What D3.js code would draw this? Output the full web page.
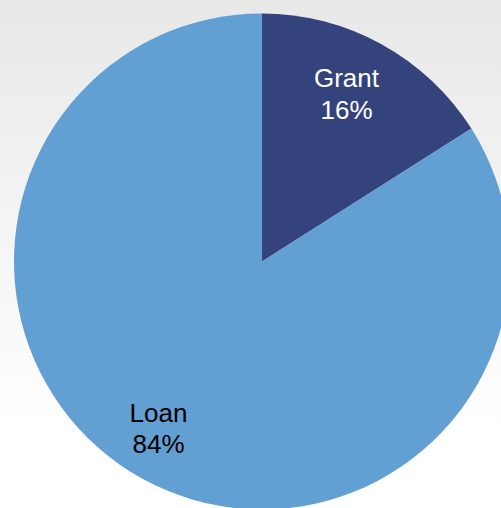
<!DOCTYPE html>
<html>
<head>
<meta charset="utf-8">
<script src="https://cdn.jsdelivr.net/npm/d3@7"></script>
<style>
  html, body { margin: 0; padding: 0; background: #fff; }
  svg { display: block; }
</style>
</head>
<body>
<svg id="chart" width="501" height="508"></svg>
<script>
// Funding split
const categories = ["Grant", "Loan"];
const shares = [16, 84];
const sliceColors = ["#35437d", "#629fd3"];
const labelColors = ["#ffffff", "#000000"];

const width = 501, height = 508;
const cx = 262, cy = 261.5, radius = 248;

const svg = d3.select("#chart");

// soft grey-to-white backdrop
const defs = svg.append("defs");
const grad = defs.append("linearGradient")
  .attr("id", "bg").attr("x1", 0).attr("y1", 0).attr("x2", 0).attr("y2", 1);
grad.append("stop").attr("offset", "0%").attr("stop-color", "#e8e8e8");
grad.append("stop").attr("offset", "85%").attr("stop-color", "#ffffff");
svg.append("rect").attr("width", width).attr("height", height).attr("fill", "url(#bg)");

const data = categories.map((c, i) => ({ name: c, value: shares[i], color: sliceColors[i], text: labelColors[i] }));

const pie = d3.pie().sort(null).value(d => d.value);
const arc = d3.arc().innerRadius(0).outerRadius(radius);
const labelArc = d3.arc().innerRadius(192).outerRadius(192);

const g = svg.append("g").attr("transform", `translate(${cx},${cy})`);
const arcs = pie(data);

g.selectAll("path.slice")
  .data(arcs)
  .join("path")
  .attr("class", "slice")
  .attr("d", arc)
  .attr("fill", d => d.data.color);

// small nudges so labels sit where the layout puts them
const nudge = [[-8, 0], [-11, -2]];

const labels = g.selectAll("text.lbl")
  .data(arcs)
  .join("text")
  .attr("class", "lbl")
  .attr("transform", (d, i) => {
    const [x, y] = labelArc.centroid(d);
    return `translate(${x + nudge[i][0]},${y + nudge[i][1]})`;
  })
  .attr("text-anchor", "middle")
  .attr("font-family", "Liberation Sans, Arial, sans-serif")
  .attr("font-size", 26)
  .attr("fill", d => d.data.text);

labels.append("tspan").attr("x", 0).attr("y", -6).text(d => d.data.name);
labels.append("tspan").attr("x", 0).attr("y", 25.7).text(d => d.data.value + "%");
</script>
</body>
</html>
